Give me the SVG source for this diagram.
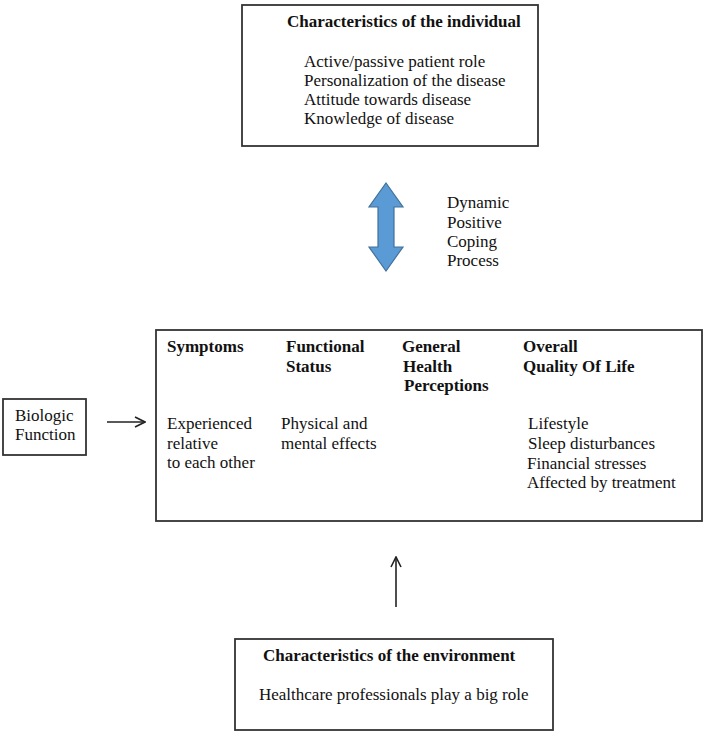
<svg xmlns="http://www.w3.org/2000/svg" width="708" height="736" viewBox="0 0 708 736">
<defs>
<style>
text{font-family:"Liberation Serif","Times New Roman",serif;font-size:17px;fill:#111}
.b{font-weight:bold}
.box{fill:#fff;stroke:#333;stroke-width:1.8}
.ln{stroke:#222;stroke-width:1.6;fill:none}
</style>
<marker id="ah" viewBox="0 0 12 12" refX="11" refY="6" markerWidth="12" markerHeight="12" markerUnits="userSpaceOnUse" orient="auto">
<path d="M1,1 L11,6 L1,11" fill="none" stroke="#222" stroke-width="1.6"/>
</marker>
</defs>
<rect width="708" height="736" fill="#fff"/>
<g id="individual">
<rect class="box" x="242" y="5" width="296" height="141"/>
<text class="b" x="287" y="27">Characteristics of the individual</text>
<text x="304" y="67">Active/passive patient role</text>
<text x="304" y="86">Personalization of the disease</text>
<text x="304" y="105">Attitude towards disease</text>
<text x="304" y="124">Knowledge of disease</text>
</g>
<g id="coping">
<polygon points="386,183 403,207 394,207 394,247 403,247 386,271 369,247 378,247 378,207 369,207" fill="#5B9BD5" stroke="#41719C" stroke-width="1.2"/>
<text x="447" y="208">Dynamic</text>
<text x="447" y="228">Positive</text>
<text x="447" y="247">Coping</text>
<text x="447" y="266">Process</text>
</g>
<g id="biologic">
<rect class="box" x="3" y="399" width="83" height="56"/>
<text x="15" y="421">Biologic</text>
<text x="15" y="440">Function</text>
</g>
<g id="main">
<rect class="box" x="156" y="330" width="546" height="191"/>
<text class="b" x="167" y="352">Symptoms</text>
<text class="b" x="286" y="352">Functional</text>
<text class="b" x="286" y="372">Status</text>
<text class="b" x="402" y="352">General</text>
<text class="b" x="403" y="372">Health</text>
<text class="b" x="404" y="391">Perceptions</text>
<text class="b" x="523" y="352">Overall</text>
<text class="b" x="523" y="372">Quality Of Life</text>
<text x="167" y="429">Experienced</text>
<text x="167" y="449">relative</text>
<text x="167" y="468">to each other</text>
<text x="281" y="429">Physical and</text>
<text x="281" y="449">mental effects</text>
<text x="528" y="429">Lifestyle</text>
<text x="528" y="449">Sleep disturbances</text>
<text x="527" y="469">Financial stresses</text>
<text x="527" y="488">Affected by treatment</text>
</g>
<g id="environment">
<rect class="box" x="235" y="639" width="318" height="91"/>
<text class="b" x="263" y="661">Characteristics of the environment</text>
<text x="259" y="700">Healthcare professionals play a big role</text>
</g>
<g id="connectors">
<line class="ln" x1="107" y1="422" x2="145" y2="422" marker-end="url(#ah)"/>
<line class="ln" x1="396" y1="607" x2="396" y2="557" marker-end="url(#ah)"/>
</g>
</svg>
